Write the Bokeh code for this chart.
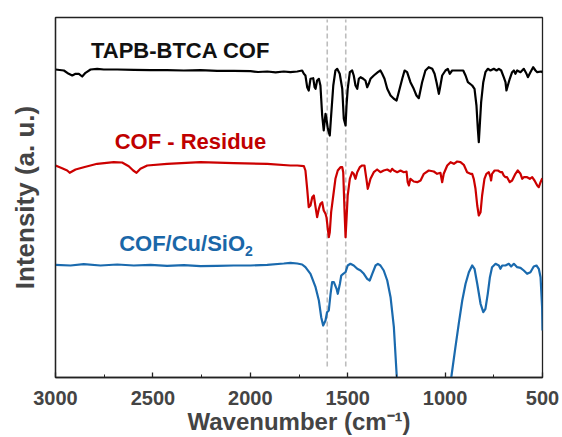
from bokeh.plotting import figure
from bokeh.models import Range1d, FixedTicker, Label
from bokeh.embed import file_html
from bokeh.resources import INLINE

# ---- data (wavenumber cm^-1, intensity a.u., traces offset vertically) ----
cof = [(3000, 308), (2957, 307), (2932, 303.7), (2914, 302), (2897, 303.7), (2880, 303.7), (2863, 301),
       (2846, 304.7), (2820, 308), (2786, 308.7), (2752, 308), (2683, 308), (2598, 307.7), (2512, 307.3),
       (2427, 307.3), (2341, 307), (2256, 307.3), (2170, 306.7), (2085, 306.7), (1999, 306.3), (1960, 305.5),
       (1913, 306), (1870, 305.2), (1828, 306), (1794, 305.3), (1759, 306), (1734, 307), (1725, 303.7),
       (1717, 302), (1708, 290.3), (1700, 287), (1691, 298.7), (1677, 299.3), (1670, 290.3), (1665, 288.7),
       (1657, 297), (1648, 298.7), (1640, 292), (1631, 262), (1623, 247), (1614, 263.7), (1609, 258.7),
       (1602, 248.7), (1592, 242), (1585, 262), (1574, 292), (1563, 307), (1554, 308.7), (1541, 303.7),
       (1528, 288.7), (1520, 258.7), (1511, 252), (1506, 272), (1500, 288.7), (1489, 305.3), (1477, 307),
       (1469, 302), (1460, 292), (1451, 288.7), (1443, 298.7), (1434, 300.3), (1420, 298.7), (1409, 297),
       (1400, 290.3), (1392, 293.7), (1383, 298.7), (1366, 302), (1345, 305.3), (1332, 307), (1323, 303.7),
       (1311, 298.7), (1297, 288.7), (1280, 282), (1263, 278.7), (1249, 277), (1238, 285.3), (1220, 298.7),
       (1208, 307), (1195, 305.3), (1178, 295.3), (1161, 288.7), (1147, 282), (1135, 279.3), (1118, 295.3),
       (1101, 307), (1084, 310.3), (1066, 308.7), (1054, 303.7), (1044, 295.3), (1032, 283.7), (1027, 288.7),
       (1015, 302), (998, 307), (986, 308.7), (976, 303.7), (964, 307), (938, 307), (907, 307), (895, 302),
       (883, 295.3), (861, 292), (849, 288.7), (839, 272), (832, 248.7), (827, 235.3), (822, 252), (815, 275.3),
       (804, 295.3), (793, 305.3), (781, 308.7), (767, 307), (750, 308.7), (736, 307), (724, 308.7), (712, 307),
       (699, 300.3), (690, 295.3), (685, 287), (678, 292), (668, 298.7), (656, 305.3), (647, 307), (639, 303.7),
       (630, 307), (613, 305.3), (596, 308.7), (582, 303.7), (575, 300.3), (562, 305.3), (548, 310.3),
       (536, 307), (527, 305.3), (507, 306), (500, 305.3)]

residue = [(3000, 212), (2966, 209.3), (2940, 207), (2927, 204.7), (2897, 208), (2855, 210.3), (2786, 213.7),
           (2701, 215.3), (2658, 215), (2624, 211.3), (2601, 207), (2584, 204.7), (2564, 208.7), (2529, 212),
           (2427, 213.7), (2256, 215.3), (2085, 214.3), (1913, 213.7), (1794, 212), (1759, 212), (1725, 211.3),
           (1717, 207), (1708, 188.7), (1700, 170.3), (1691, 172), (1682, 180.3), (1674, 182), (1665, 170.3),
           (1657, 160.3), (1648, 168.7), (1640, 173.7), (1631, 175.3), (1623, 167), (1614, 163.7), (1609, 160.3),
           (1602, 148.7), (1597, 140.3), (1592, 145.3), (1585, 165.3), (1574, 182), (1563, 198.7), (1551, 207),
           (1537, 210.3), (1528, 210.3), (1523, 205.3), (1516, 165.3), (1511, 140.3), (1506, 158.7), (1500, 182),
           (1489, 198.7), (1477, 205.3), (1469, 203.7), (1460, 198.7), (1451, 205.3), (1438, 210.3), (1426, 212),
           (1414, 212), (1404, 198.7), (1397, 188.7), (1392, 192), (1383, 198.7), (1366, 205.3), (1349, 208),
           (1332, 205.3), (1315, 207), (1297, 208), (1280, 206), (1272, 208.7), (1263, 207), (1246, 205.3),
           (1229, 207), (1212, 205.3), (1198, 206), (1192, 195.3), (1186, 192), (1178, 198.7), (1161, 196),
           (1143, 195.3), (1126, 197), (1109, 203.7), (1084, 207), (1058, 206), (1041, 203.7), (1024, 204.7),
           (1015, 195.3), (1007, 203.7), (989, 212), (972, 215.3), (955, 213.7), (938, 216), (921, 215.3),
           (904, 212.7), (887, 205.3), (870, 203.7), (861, 203.7), (853, 198.7), (844, 188.7), (835, 172),
           (827, 162), (818, 165.3), (810, 182), (798, 198.7), (788, 203.7), (776, 205.3), (767, 200.3),
           (764, 197), (759, 203.7), (746, 207), (729, 207), (716, 205.3), (707, 205.3), (699, 202), (690, 200.3),
           (682, 200.3), (668, 195.3), (656, 197), (639, 203.7), (627, 207), (613, 203.7), (604, 198.7),
           (596, 200.3), (579, 200.3), (565, 198.7), (553, 200.3), (541, 197), (527, 192), (519, 190.3),
           (510, 195.3), (502, 198.7), (500, 199)]

cu_sio2 = [(3000, 112.7), (2923, 112), (2855, 113.3), (2769, 112), (2683, 113), (2598, 112), (2512, 112.7),
           (2427, 111.7), (2341, 112.3), (2256, 111.3), (2170, 111.7), (2085, 112), (1999, 112), (1913, 112.7),
           (1828, 114), (1794, 114.7), (1759, 114), (1734, 113), (1717, 110.3), (1691, 103.7), (1665, 90.3),
           (1648, 77), (1636, 60.3), (1626, 52), (1614, 57), (1606, 65.3), (1597, 67), (1588, 83.7), (1580, 95.3),
           (1571, 95.3), (1557, 88.7), (1551, 83.7), (1540, 93.7), (1533, 102), (1523, 103.7), (1511, 105.3),
           (1500, 112), (1486, 113.7), (1469, 112), (1451, 108.7), (1434, 107), (1417, 103.7), (1400, 98.7),
           (1387, 97), (1374, 103.7), (1357, 112), (1345, 113.7), (1332, 112), (1315, 107), (1297, 97),
           (1280, 80.3), (1263, 50.3), (1249, 3.7), (1230, -60), (1150, -200), (1080, -200), (1000, -40),
           (967, 2), (947, 30.3), (930, 53.7), (912, 77), (895, 93.7), (878, 105.3), (861, 112), (849, 108.7),
           (835, 93.7), (818, 73.7), (804, 65.3), (793, 68.7), (781, 83.7), (770, 100.3), (759, 110.3),
           (741, 113.7), (724, 112), (716, 108.7), (707, 112), (690, 112), (673, 113.7), (661, 111), (647, 113.7),
           (630, 110.3), (613, 109.7), (596, 107), (579, 103.7), (562, 105.3), (545, 111), (531, 112),
           (519, 108.7), (510, 100.3), (502, 70.3), (500, 47)]

marker_wn = [1605, 1510]          # dashed reference lines
x_ticks = [3000, 2500, 2000, 1500, 1000, 500]
x_minor_ticks = [2750, 2250, 1750, 1250, 750]
series_names = ["TAPB-BTCA COF", "COF - Residue", "COF/Cu/SiO"]

FONT = "Liberation Sans"

p = figure(width=562, height=437, output_backend="svg", toolbar_location=None,
           x_range=Range1d(3000, 500), y_range=Range1d(0, 360),
           min_border_left=55, min_border_right=20, min_border_top=17, min_border_bottom=60)
p.background_fill_color = "white"
p.border_fill_color = "white"
p.xgrid.visible = False
p.ygrid.visible = False
p.outline_line_color = "#222222"
p.outline_line_width = 1.3

# dashed guide lines
p.segment(x0=marker_wn, x1=marker_wn, y0=[11, 11], y1=[358, 358],
          line_color="#bdbdbd", line_width=1.6, line_dash="5 3")

for data, color in [(cof, "#000000"), (residue, "#cc0000"), (cu_sio2, "#1a6aae")]:
    xs = [d[0] for d in data]
    ys = [d[1] for d in data]
    p.line(xs, ys, line_color=color, line_width=2.2, line_join="round")

# x axis
xa = p.xaxis[0]
xa.ticker = FixedTicker(ticks=x_ticks, minor_ticks=x_minor_ticks)
xa.axis_label = "Wavenumber (cm\u207b\u00b9)"
xa.axis_label_text_font = FONT
xa.axis_label_text_font_style = "bold"
xa.axis_label_text_font_size = "24px"
xa.axis_label_standoff = 0
xa.major_label_text_font = FONT
xa.major_label_text_font_style = "bold"
xa.major_label_text_font_size = "20px"
xa.major_label_standoff = 13
xa.major_tick_in = 5
xa.major_tick_out = 0
xa.minor_tick_in = 3
xa.minor_tick_out = 0
xa.axis_line_color = "#222222"
xa.axis_line_width = 1.3
xa.major_tick_line_width = 1.3
xa.major_tick_line_color = "#222222"
xa.minor_tick_line_color = "#222222"

# y axis
ya = p.yaxis[0]
ya.ticker = FixedTicker(ticks=[])
ya.axis_label = "Intensity (a. u.)"
ya.axis_label_text_font = FONT
ya.axis_label_text_font_style = "bold"
ya.axis_label_text_font_size = "26px"
ya.axis_label_standoff = 16
ya.axis_line_color = "#222222"
ya.axis_line_width = 1.3
ya.major_tick_line_color = None
ya.minor_tick_line_color = None

# series labels
lab_style = dict(text_font=FONT, text_font_style="bold", text_font_size="22px",
                 text_baseline="middle")
p.add_layout(Label(x=2358, y=327.5, text=series_names[0], text_align="center",
                   text_color="#111111", **lab_style))
p.add_layout(Label(x=2307, y=236, text=series_names[1], text_align="center",
                   text_color="#c00000", **lab_style))
p.add_layout(Label(x=2027, y=134, text=series_names[2], text_align="right",
                   text_color="#1a67a8", **lab_style))
p.add_layout(Label(x=2027, y=127, text="2", text_align="left", text_font=FONT,
                   text_font_style="bold", text_font_size="14px", text_baseline="middle",
                   text_color="#1a67a8"))

open("out.html", "w").write(file_html(p, INLINE))
